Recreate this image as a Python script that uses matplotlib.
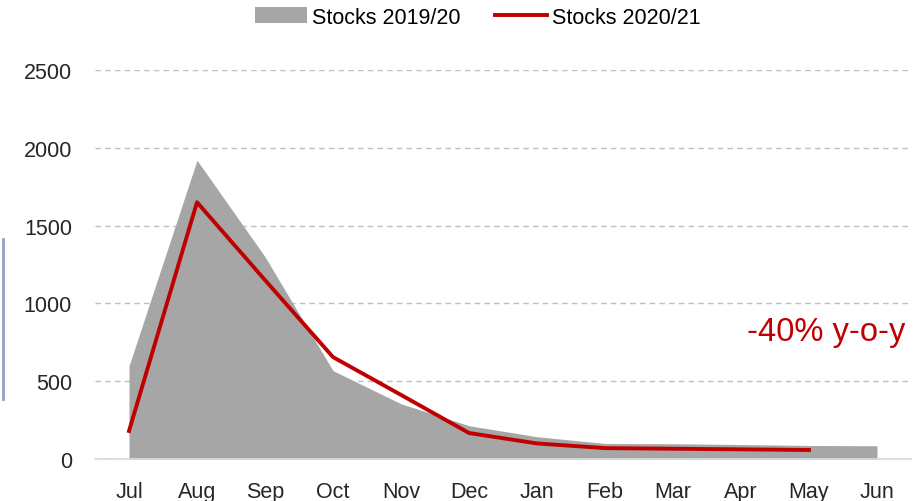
import matplotlib
matplotlib.use("Agg")
from matplotlib import pyplot as plt
from matplotlib.lines import Line2D
import numpy as np

months = ['Jul', 'Aug', 'Sep', 'Oct', 'Nov', 'Dec', 'Jan', 'Feb', 'Mar', 'Apr', 'May', 'Jun']
stocks_1920 = [598, 1920, 1300, 568, 355, 214, 143, 100, 98, 93, 87, 85]
stocks_2021 = [180, 1650, 1150, 655, 412, 167, 100, 70, 66, 62, 58]
yticks = [0, 500, 1000, 1500, 2000, 2500]

plt.rcParams['font.family'] = ['Liberation Sans', 'DejaVu Sans']

fig = plt.figure(figsize=(9.15, 5.02), dpi=100)
ax = fig.add_axes([95/915, 1 - 460/502, 816/915, 389/502])

x = np.arange(len(months))
ax.fill_between(x, stocks_1920, 0, color='#a6a6a6', linewidth=0, label='Stocks 2019/20', zorder=2)
ax.plot(x[:len(stocks_2021)], stocks_2021, color='#c00000', linewidth=2.8, label='Stocks 2020/21', zorder=3)

ax.set_xlim(-0.5, 11.5)
ax.set_ylim(0, 2500)
ax.set_yticks(yticks)
ax.set_xticks(x)
ax.set_xticklabels(months)
ax.tick_params(axis='both', length=0, labelsize=15.5, colors='#262626')
ax.tick_params(axis='y', pad=16.5)
ax.tick_params(axis='x', pad=16)
ax.grid(axis='y', color='#bfbfbf', linestyle=(0, (4, 3)), linewidth=1, zorder=1)
for s in ['top', 'right', 'left']:
    ax.spines[s].set_visible(False)
ax.spines['bottom'].set_color('#d9d9d9')
ax.spines['bottom'].set_linewidth(1.2)
ax.spines['bottom'].set_zorder(4)

ax.text(1 - 6/816, (460 - 333) / 389, '-40% y-o-y', transform=ax.transAxes, ha='right', va='center',
        fontsize=23.5, color='#c00000')

fig.legend(*ax.get_legend_handles_labels(), loc='center', bbox_to_anchor=(478/915, 1 - 18/502),
           ncol=2, frameon=False, fontsize=15.5, handlelength=2.4, columnspacing=1.6,
           handletextpad=0.25, borderpad=0)

# thin vertical bar on the left edge
fig.add_artist(Line2D([2.5/915, 2.5/915], [1 - 400/502, 1 - 240/502], color='#8fa3bf', linewidth=2))

fig.savefig('out.png', dpi=100)
